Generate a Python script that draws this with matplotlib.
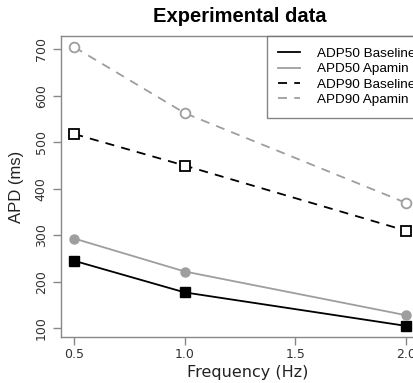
import matplotlib.pyplot as plt

freq = [0.5, 1.0, 2.0]
adp50_base = [245, 177, 105]
apd50_apamin = [293, 222, 128]
adp90_base = [518, 450, 310]
apd90_apamin = [705, 563, 370]

xticks = [0.5, 1.0, 1.5, 2.0]
yticks = [100, 200, 300, 400, 500, 600, 700]

fig = plt.figure(figsize=(4.14, 3.83), dpi=100)
ax = fig.add_axes([61 / 414, 46 / 383, 358 / 414, 301 / 383])

gray = '#9e9e9e'
ax.plot(freq, adp50_base, color='black', lw=1.3, marker='s', ms=7,
        mfc='black', mec='black', label='ADP50 Baseline')
ax.plot(freq, apd50_apamin, color=gray, lw=1.3, marker='o', ms=6.5,
        mfc=gray, mec=gray, label='APD50 Apamin')
ax.plot(freq, adp90_base, color='black', lw=1.3, ls=(0, (5, 4)), marker='s', ms=7,
        mfc='white', mec='black', mew=1.3, label='ADP90 Baseline')
ax.plot(freq, apd90_apamin, color=gray, lw=1.3, ls=(0, (5, 4)), marker='o', ms=7,
        mfc='white', mec=gray, mew=1.3, label='APD90 Apamin')

ax.set_xlim(0.44, 2.06)
ax.set_ylim(81, 729)
ax.set_xticks(xticks)
ax.set_xticklabels(['0.5', '1.0', '1.5', '2.0'])
ax.set_yticks(yticks)
ax.set_yticklabels([str(v) for v in yticks], rotation=90, va='center')

for s in ax.spines.values():
    s.set_color('#888888')
    s.set_linewidth(1.0)
ax.tick_params(colors='#888888', length=6, width=1.0, labelcolor='#333333',
               labelsize=9)
ax.tick_params(axis='x', pad=2)

ax.set_xlabel('Frequency (Hz)', fontsize=11.5, color='#222222')
ax.xaxis.set_label_coords((248 - 61) / 358, -(372 - 337) / 301)
ax.xaxis.label.set_va('center')
ax.set_ylabel('APD (ms)', fontsize=12, color='#222222', labelpad=8,
              family='Liberation Sans')
fig.text(240 / 414, 1 - 16 / 383, 'Experimental data', ha='center', va='center',
         fontsize=14.5, fontweight='bold', family='Liberation Sans')

# legend sits in the top right corner, running off the right edge like the original
leg = ax.legend(loc='upper left', bbox_to_anchor=(206 / 358, 1.0), borderaxespad=0,
                frameon=True, fancybox=False, prop={'family': 'Liberation Sans', 'size': 9.7},
                handlelength=1.6, handletextpad=1.25, labelspacing=0.22,
                borderpad=0.85, edgecolor='#666666')
leg.get_frame().set_linewidth(1.0)
for h in leg.get_lines():
    h.set_marker('')

fig.savefig('out.png', dpi=100)
